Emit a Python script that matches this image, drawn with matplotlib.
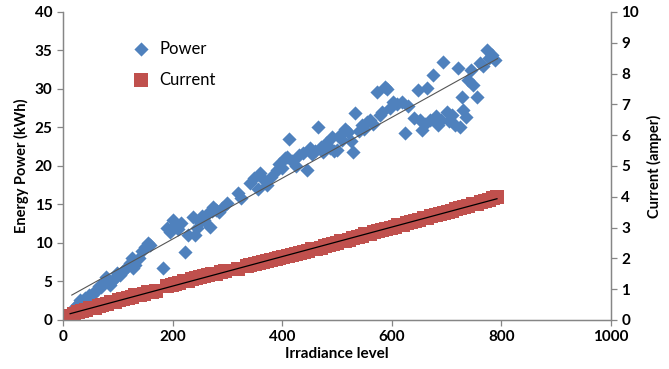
import numpy as np
import matplotlib.pyplot as plt

plt.rcParams['font.family'] = ['Lato', 'DejaVu Sans']
plt.rcParams['font.weight'] = 'bold'

# power readings (irradiance, kWh)
irr_p = [8, 12, 16, 18, 22, 26, 30, 31, 35, 40, 44, 48, 53, 57, 62, 66, 70, 73, 78, 80,
         85, 90, 95, 99, 104, 110, 115, 122, 126, 128, 132, 138, 145, 150, 155, 159, 182, 190, 195, 199,
         201, 205, 210, 215, 223, 228, 237, 240, 245, 250, 254, 258, 262, 268, 272, 274, 280, 285, 290, 300,
         319, 325, 341, 348, 355, 359, 366, 372, 380, 390, 395, 400, 405, 409, 412, 418, 425, 430, 438, 445,
         450, 455, 460, 465, 470, 475, 480, 487, 491, 495, 500, 505, 510, 515, 520, 525, 529, 533, 540, 545,
         550, 555, 560, 565, 573, 578, 583, 588, 591, 596, 602, 610, 619, 624, 630, 640, 648, 651, 655, 660,
         664, 670, 675, 680, 684, 690, 693, 700, 705, 710, 716, 721, 725, 728, 730, 735, 739, 745, 748, 755,
         761, 767, 774, 778, 783, 788]
power = [0.3, 0.8, 1.3, 1.0, 1.6, 2.0, 2.2, 2.6, 2.4, 2.9, 2.6, 3.3, 3.2, 3.6, 3.9, 4.4, 4.3, 4.8, 5.6, 5.2,
         4.6, 5.0, 5.5, 6.1, 5.8, 6.4, 6.8, 7.4, 8.0, 6.8, 7.2, 8.0, 9.0, 9.5, 10.0, 9.8, 6.7, 11.9, 11.4, 11.9,
         13.0, 12.3, 11.8, 12.6, 8.8, 11.0, 13.4, 11.0, 11.9, 12.7, 13.5, 13.0, 13.8, 12.1, 14.2, 14.7, 14.3, 14.0, 14.6, 15.2,
         16.5, 15.8, 17.8, 18.5, 17.0, 19.1, 18.2, 17.5, 18.6, 19.5, 20.3, 19.8, 21.0, 21.2, 23.5, 20.6, 20.0, 21.4, 21.7, 19.5,
         22.3, 21.5, 22.0, 25.0, 22.5, 21.8, 23.0, 22.4, 23.8, 22.0, 22.1, 24.0, 23.4, 24.8, 24.4, 23.2, 21.8, 26.9, 24.5, 25.3,
         24.8, 25.7, 26.0, 25.5, 29.6, 26.6, 27.0, 30.3, 30.0, 27.5, 28.3, 28.0, 28.3, 24.3, 27.8, 26.2, 29.9, 26.0, 24.7, 25.5,
         30.1, 26.0, 31.8, 26.5, 25.3, 26.0, 33.5, 27.0, 25.8, 26.6, 25.3, 32.7, 25.1, 29.0, 27.3, 26.3, 31.2, 32.5, 30.5, 29.0,
         33.4, 33.0, 35.1, 34.0, 34.4, 33.8]

# current readings (irradiance, amper)
irr_c = [5, 12, 20, 28, 35, 42, 50, 58, 65, 72, 80, 88, 95, 102, 110, 118, 125, 132, 140, 148,
         155, 162, 170, 190, 198, 205, 212, 220, 228, 235, 242, 250, 258, 265, 272, 280, 288, 295, 320, 335,
         342, 350, 358, 365, 372, 380, 388, 395, 402, 410, 418, 425, 432, 440, 448, 455, 462, 470, 478, 485,
         492, 500, 508, 515, 522, 530, 538, 545, 552, 560, 568, 575, 582, 590, 598, 605, 612, 620, 628, 635,
         642, 650, 658, 665, 672, 680, 688, 695, 702, 710, 718, 725, 732, 740, 748, 755, 762, 770, 778, 785, 792]
current = [0.12, 0.14, 0.2, 0.25, 0.3, 0.32, 0.38, 0.4, 0.45, 0.5, 0.52, 0.58, 0.6, 0.65, 0.68, 0.72, 0.75, 0.8, 0.82, 0.85,
           0.9, 0.92, 0.95, 1.12, 1.15, 1.18, 1.2, 1.25, 1.28, 1.32, 1.35, 1.38, 1.42, 1.45, 1.48, 1.5, 1.55, 1.58, 1.65, 1.75,
           1.78, 1.82, 1.85, 1.88, 1.9, 1.95, 1.98, 2.0, 2.05, 2.08, 2.12, 2.15, 2.18, 2.22, 2.25, 2.3, 2.32, 2.35, 2.4, 2.42,
           2.48, 2.5, 2.55, 2.58, 2.6, 2.65, 2.7, 2.72, 2.78, 2.8, 2.85, 2.88, 2.92, 2.95, 3.0, 3.02, 3.08, 3.1, 3.15, 3.18,
           3.22, 3.25, 3.3, 3.32, 3.38, 3.4, 3.45, 3.48, 3.52, 3.55, 3.6, 3.62, 3.68, 3.7, 3.75, 3.78, 3.82, 3.85, 3.9, 3.95, 4.0]

blue = "#4F81BD"
red = "#C0504D"
gray = "#868686"

fig = plt.figure(figsize=(6.69, 3.69), dpi=100)
ax = fig.add_axes([0.0942, 0.1328, 0.819, 0.8347])
ax2 = ax.twinx()

ax.scatter(irr_p, power, marker="D", s=52, color=blue, linewidths=0, label="Power", zorder=2)
kp = np.polyfit(irr_p, power, 1)
xp = np.array([min(irr_p) + 8, max(irr_p) + 5])
ax.plot(xp, np.polyval(kp, xp), color="#555555", lw=0.8, zorder=3)

ax2.scatter(irr_c, current, marker="s", s=105, color=red, linewidths=0, label="Current", zorder=2)
kc = np.polyfit(irr_c, current, 1)
xc = np.array([min(irr_c) + 8, max(irr_c)])
ax2.plot(xc, np.polyval(kc, xc), color="black", lw=0.9, zorder=3)

ax.set_xlim(0, 1000)
ax.set_ylim(0, 40)
ax2.set_ylim(0, 10)
ax.set_xticks(range(0, 1001, 200))
ax.set_yticks(range(0, 41, 5))
ax2.set_yticks(range(0, 11))

for a in (ax, ax2):
    a.spines["top"].set_visible(False)
    for s in ("left", "right", "bottom"):
        a.spines[s].set_color(gray)
        a.spines[s].set_linewidth(0.9)
    a.tick_params(colors=gray, labelcolor="black", labelsize=11, length=4, width=0.9)
    plt.setp(a.get_xticklabels() + a.get_yticklabels(), fontweight="bold")

ax.set_xlabel("Irradiance level", fontsize=11, fontweight="bold", labelpad=2)
ax.set_ylabel("Energy Power (kWh)", fontsize=10.5, fontweight="bold", labelpad=4)
ax2.set_ylabel("Current (amper)", fontsize=10.5, fontweight="bold", labelpad=6)

h1, l1 = ax.get_legend_handles_labels()
h2, l2 = ax2.get_legend_handles_labels()
ax2.legend(h1 + h2, l1 + l2, loc="upper left", bbox_to_anchor=(0.085, 0.955), frameon=False,
           handletextpad=0.1, labelspacing=0.9, prop={"weight": "normal", "size": 12})

fig.savefig("out.png", dpi=100)
